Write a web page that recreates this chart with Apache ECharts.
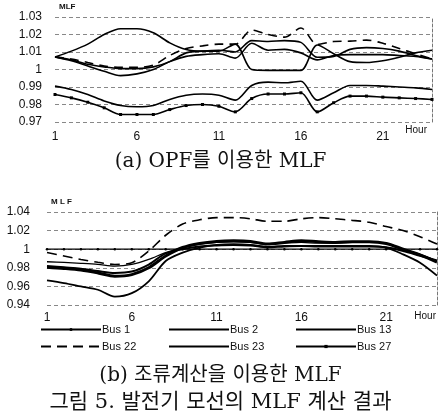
<!DOCTYPE html>
<html><head><meta charset="utf-8">
<script src="https://cdn.jsdelivr.net/npm/echarts@6/dist/echarts.min.js"></script>
<style>html,body{margin:0;padding:0;background:#fff}#c{width:441px;height:420px}</style>
</head><body><div id="c"></div>
<script>
const hours = ['1','2','3','4','5','6','7','8','9','10','11','12','13','14','15','16','17','18','19','20','21','22','23','24'];
const yTicksA = ['0.97','0.98','0.99','1','1.01','1.02','1.03'];
const yTicksB = ['0.94','0.96','0.98','1','1.02','1.04'];

// (a) OPF-based MLF
const opfHump    = [1.0072,1.0105,1.0145,1.0200,1.0233,1.0233,1.0210,1.0152,1.0114,1.0105,1.0105,1.0145,1.0000,0.9995,0.9995,0.9995,1.0140,1.0090,1.0045,1.0040,1.0050,1.0070,1.0095,1.0110];
const opfDeep    = [1.0072,1.0050,1.0020,0.9990,0.9965,0.9975,1.0000,1.0045,1.0075,1.0085,1.0090,1.0065,1.0150,1.0110,1.0115,1.0095,1.0055,1.0080,1.0085,1.0085,1.0085,1.0080,1.0075,1.0060];
const opfShallow = [1.0072,1.0055,1.0030,1.0015,1.0005,1.0005,1.0015,1.0045,1.0095,1.0105,1.0110,1.0100,1.0165,1.0160,1.0165,1.0155,1.0070,1.0075,1.0115,1.0125,1.0120,1.0105,1.0080,1.0060];
const opfDashed  = [1.0072,1.0060,1.0040,1.0020,1.0012,1.0012,1.0025,1.0080,1.0120,1.0135,1.0145,1.0145,1.0225,1.0200,1.0185,1.0237,1.0143,1.0160,1.0162,1.0168,1.0150,1.0120,1.0090,1.0060];
const opfLowA    = [0.9905,0.9886,0.9857,0.9820,0.9794,0.9787,0.9794,0.9829,0.9853,0.9860,0.9853,0.9825,0.9909,0.9928,0.9924,0.9933,0.9825,0.9867,0.9909,0.9909,0.9905,0.9900,0.9895,0.9886];
const opfLowB    = [0.9857,0.9838,0.9813,0.9781,0.9743,0.9743,0.9743,0.9771,0.9794,0.9800,0.9790,0.9758,0.9834,0.9860,0.9860,0.9867,0.9758,0.9810,0.9848,0.9848,0.9842,0.9838,0.9834,0.9829];

// (b) load-flow-based MLF
const bus1  = [1,1,1,1,1,1,1,1,1,1,1,1,1,1,1,1,1,1,1,1,1,1,1,1];
const bus2  = [0.9865,0.9858,0.9848,0.9836,0.9818,0.9836,0.9890,0.9964,1.0018,1.0055,1.0073,1.0080,1.0073,1.0055,1.0065,1.0073,1.0065,1.0065,1.0073,1.0073,1.0065,1.0000,0.9945,0.9873];
const bus13 = [0.9807,0.9793,0.9775,0.9745,0.9710,0.9727,0.9800,0.9927,1.0018,1.0062,1.0084,1.0090,1.0084,1.0055,1.0073,1.0090,1.0080,1.0073,1.0080,1.0080,1.0062,1.0000,0.9938,0.9860];
const bus22 = [0.9964,0.9927,0.9890,0.9860,0.9836,0.9855,0.9980,1.0150,1.0270,1.0316,1.0340,1.0340,1.0327,1.0300,1.0300,1.0327,1.0340,1.0327,1.0310,1.0290,1.0244,1.0200,1.0135,1.0055];
const bus23 = [0.9665,0.9636,0.9600,0.9564,0.9490,0.9527,0.9655,0.9873,0.9964,1.0018,1.0047,1.0055,1.0047,1.0025,1.0036,1.0036,1.0036,1.0036,1.0036,1.0036,1.0018,0.9945,0.9855,0.9716];
const bus27 = [0.9820,0.9805,0.9790,0.9765,0.9745,0.9760,0.9835,0.9955,1.0000,1.0030,1.0040,1.0045,1.0040,1.0020,1.0030,1.0035,1.0030,1.0030,1.0030,1.0030,1.0020,0.9980,0.9930,0.9880];

const fmtA = v => { const r = Math.round(v*100); return yTicksA[r-97] || ''; };
const fmtB = v => { const r = Math.round(v*100); return yTicksB[(r-94)/2] || ''; };

const chart = echarts.init(document.getElementById('c'));
const ax = '"Liberation Sans", Arial, sans-serif';
const serif = '"DejaVu Serif", "Liberation Serif", "Noto Sans CJK KR", serif';

function xAx(gi, margin) {
  return { type:'category', gridIndex:gi, data:hours, boundaryGap:false,
    axisLine:{show:false}, axisTick:{show:false}, splitLine:{show:false},
    axisLabel:{interval:4, margin:margin, fontFamily:ax, fontSize:12, color:'#111'} };
}
function yAx(gi, min, max, step, fmt, name, margin) {
  return { type:'value', gridIndex:gi, min:min, max:max, interval:step,
    name:name, nameLocation:'end', nameGap:6,
    nameTextStyle:{fontFamily:ax, fontSize:8, fontWeight:'bold', color:'#111', align:'left', padding:[0,0,0,4]},
    axisLine:{show:false}, axisTick:{show:false},
    axisLabel:{formatter:fmt, fontFamily:ax, fontSize:12, color:'#111', margin:margin},
    splitLine:{show:true, lineStyle:{color:'#888', type:[4,3], width:1}} };
}
function yRight(gi, min, max) {
  return { type:'value', gridIndex:gi, min:min, max:max, position:'right',
    axisLine:{show:true, lineStyle:{color:'#777', type:[3,2], width:1}},
    axisTick:{show:false}, axisLabel:{show:false}, splitLine:{show:false} };
}
function s(name, data, xi, yi, opts) {
  return Object.assign({ name:name, type:'line', data:data, xAxisIndex:xi, yAxisIndex:yi,
    smooth:0.3, symbol:'none', lineStyle:{color:'#000', width:1.6}, itemStyle:{color:'#000'},
    emphasis:{disabled:true}, animation:false }, opts||{});
}
function leg(name, left, top, mark) {
  return { data:[mark ? {name:name} : {name:name, itemStyle:{opacity:0}}],
    left:left, top:top, itemWidth:60, itemHeight:4, padding:0, itemGap:0,
    textStyle:{fontFamily:ax, fontSize:11, color:'#111', padding:[0,0,0,-4]}, selectedMode:false };
}

chart.setOption({
  animation:false,
  title:[
    {text:'(a) OPF를 이용한 MLF', left:'center', top:147, textStyle:{fontFamily:serif, fontSize:20, fontWeight:'normal', color:'#111'}},
    {text:'(b) 조류계산을 이용한 MLF', left:'center', top:361, textStyle:{fontFamily:serif, fontSize:20, fontWeight:'normal', color:'#111'}},
    {text:'그림 5. 발전기 모선의 MLF 계산 결과', left:'center', top:387, textStyle:{fontFamily:serif, fontSize:21, fontWeight:'normal', color:'#111'}},
    {text:'Hour', right:9, top:120, textStyle:{fontFamily:ax, fontSize:10, fontWeight:'normal', color:'#111'}},
    {text:'Hour', right:0, top:306, textStyle:{fontFamily:ax, fontSize:10, fontWeight:'normal', color:'#111'}}
  ],
  grid:[
    {left:55, right:9, top:17, bottom:298},
    {left:47, right:4, top:212, bottom:115}
  ],
  xAxis:[xAx(0, 9), xAx(1, 7)],
  yAxis:[yAx(0, 0.97, 1.03, 0.01, fmtA, 'MLF', 13), yAx(1, 0.94, 1.04, 0.02, fmtB, 'M L F', 17), yRight(0, 0.97, 1.03), yRight(1, 0.94, 1.04)],
  legend:[leg('Bus 1', 40, 324, true), leg('Bus 2', 168, 324), leg('Bus 13', 295, 324),
          leg('Bus 22', 40, 341), leg('Bus 23', 168, 341), leg('Bus 27', 295, 341, true)],
  series:[
    s('a1', opfHump, 0, 0),
    s('a2', opfDeep, 0, 0),
    s('a3', opfShallow, 0, 0),
    s('a4', opfDashed, 0, 0, {lineStyle:{color:'#000', width:1.6, type:[9,6]}}),
    s('a5', opfLowA, 0, 0),
    s('a6', opfLowB, 0, 0, {symbol:'rect', symbolSize:3, showSymbol:true}),
    s('Bus 1', bus1, 1, 1, {symbol:'circle', symbolSize:2.5, lineStyle:{color:'#000', width:1.2}}),
    s('Bus 2', bus2, 1, 1, {lineStyle:{color:'#000', width:1.3}}),
    s('Bus 13', bus13, 1, 1, {lineStyle:{color:'#000', width:3}}),
    s('Bus 22', bus22, 1, 1, {lineStyle:{color:'#000', width:1.6, type:[10,6]}}),
    s('Bus 23', bus23, 1, 1, {lineStyle:{color:'#000', width:1.8}}),
    s('Bus 27', bus27, 1, 1, {symbol:'rect', symbolSize:3, showSymbol:false, lineStyle:{color:'#000', width:2}})
  ]
});
</script></body></html>
